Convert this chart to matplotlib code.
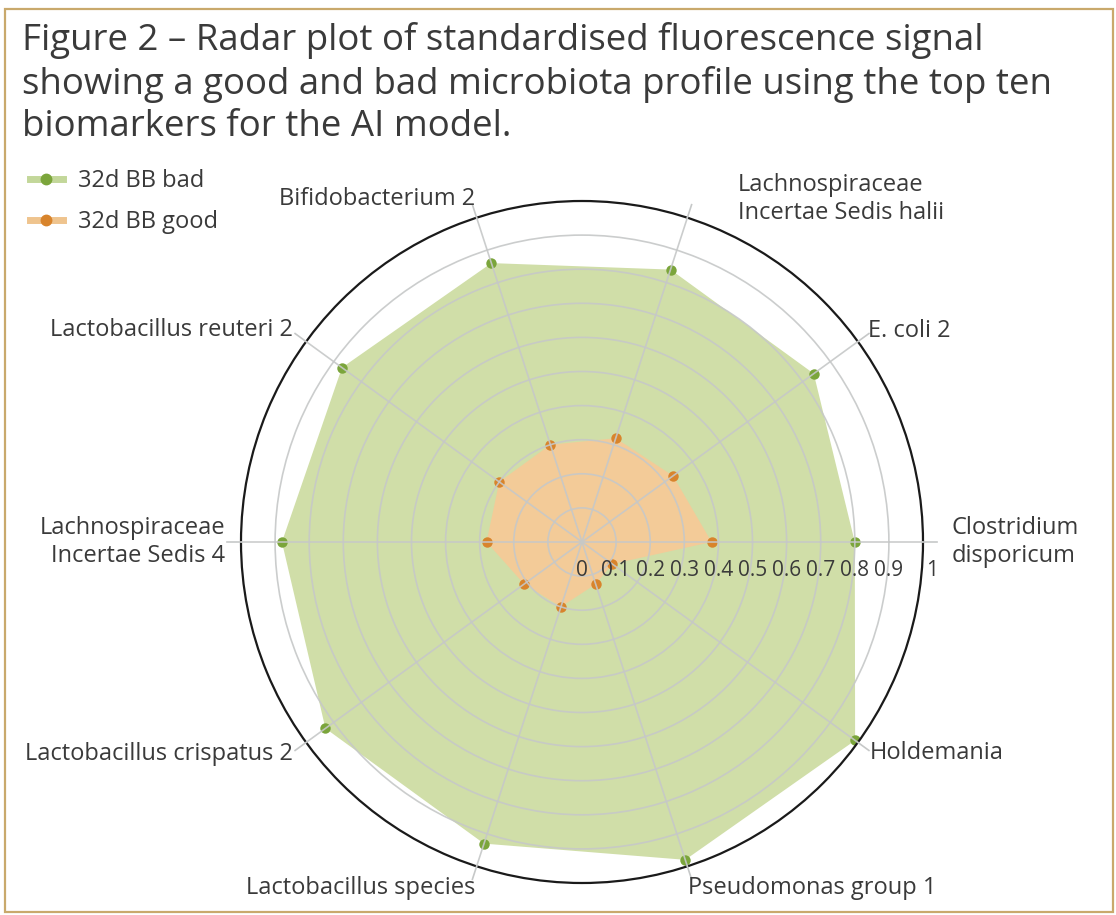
import numpy as np
import matplotlib
matplotlib.use("Agg")
import matplotlib.pyplot as plt
from matplotlib.lines import Line2D
from matplotlib.patches import Rectangle

plt.rcParams['font.family'] = ['Open Sans', 'DejaVu Sans']

# ---- data ----
categories = ["Clostridium\ndisporicum", "Holdemania", "Pseudomonas group 1",
              "Lactobacillus species", "Lactobacillus crispatus 2",
              "Lachnospiraceae\nIncertae Sedis 4", "Lactobacillus reuteri 2",
              "Bifidobacterium 2", "Lachnospiraceae\nIncertae Sedis halii", "E. coli 2"]
bad_values = [0.80, 0.99, 0.98, 0.93, 0.93, 0.88, 0.87, 0.86, 0.84, 0.84]
good_values = [0.38, 0.11, 0.13, 0.20, 0.21, 0.28, 0.30, 0.30, 0.32, 0.33]
series_names = ["32d BB bad", "32d BB good"]
radial_ticks = [0, 0.1, 0.2, 0.3, 0.4, 0.5, 0.6, 0.7, 0.8, 0.9, 1]
radial_tick_labels = ["0", "0.1", "0.2", "0.3", "0.4", "0.5", "0.6", "0.7", "0.8", "0.9", "1"]
title = ("Figure 2 – Radar plot of standardised fluorescence signal\n"
         "showing a good and bad microbiota profile using the top ten\n"
         "biomarkers for the AI model.")

# ---- styles ----
GREEN_FILL = '#d0dea8'
GREEN_DOT = '#7ba53b'
GREEN_LEG = '#c3d79a'
ORANGE_FILL = '#f3cb98'
ORANGE_DOT = '#d8842c'
ORANGE_LEG = '#efc48e'
GRID = '#c6c8c8'
TEXT = '#3a3a3a'

W, H = 1116, 915
fig = plt.figure(figsize=(W / 100, H / 100), dpi=100)
fig.patch.set_facecolor('white')

# border
fig.patches.append(Rectangle((5 / W, 3 / H), (1113 - 5) / W, (906 - 3) / H,
                             transform=fig.transFigure, fill=False,
                             edgecolor='#c9a96c', linewidth=1.6))

cx, cy, R = 582, 542, 341
ax = fig.add_axes([(cx - R) / W, (H - cy - R) / H, 2 * R / W, 2 * R / H],
                  projection='polar')
ax.set_theta_offset(0)
ax.set_theta_direction(-1)
ax.set_ylim(0, 1)

n = len(categories)
theta = np.arange(n) * 2 * np.pi / n
theta_c = np.append(theta, theta[0])
bad_c = np.append(bad_values, bad_values[0])
good_c = np.append(good_values, good_values[0])

ax.fill(theta_c, bad_c, color=GREEN_FILL, zorder=1, lw=0)
ax.fill(theta_c, good_c, color=ORANGE_FILL, zorder=1.2, lw=0)
ax.plot(theta, bad_values, 'o', color=GREEN_DOT, ms=7.5, zorder=1.5, mec='none')
ax.plot(theta, good_values, 'o', color=ORANGE_DOT, ms=7.5, zorder=1.6, mec='none')

ax.set_axisbelow(False)
ax.set_xticks(theta)
ax.set_xticklabels([])
ax.set_yticks(radial_ticks[1:-1])
ax.set_yticklabels([])
ax.grid(True, color=GRID, lw=1.2, alpha=0.9)
ax.spines['polar'].set_color('#1a1a1a')
ax.spines['polar'].set_linewidth(1.6)
ax.tick_params(axis='x', length=0, pad=0)
ax.tick_params(axis='y', length=0)

# spoke extensions outside circle
for t in theta:
    ax.plot([t, t], [1.0, 1.04], color=GRID, lw=1.2, clip_on=False, zorder=3)

# category labels
label_style = [  # ha, va, dx, dy (pixels)
    ('left', 'center', 15, 0),
    ('left', 'center', 1, -3),
    ('left', 'center', -4, -9),
    ('right', 'center', 3, -9),
    ('right', 'center', -2, -4),
    ('right', 'center', -2, 0),
    ('right', 'center', -2, 4),
    ('right', 'center', 3, 6),
    ('left', 'center', 46, 6),
    ('left', 'center', -1, 3),
]
for t, lab, (ha, va, dx, dy) in zip(theta, categories, label_style):
    ax.annotate(lab, xy=(t, 1.04), xytext=(dx, dy), textcoords='offset pixels',
                ha=ha, va=va, multialignment=ha, fontsize=17, color=TEXT,
                annotation_clip=False, linespacing=1.22)

# radial tick labels along 0° axis
for r, lab in zip(radial_ticks, radial_tick_labels):
    ax.annotate(lab, xy=(0, r), xytext=(9 if r == 1 else 0, -29),
                textcoords='offset pixels',
                ha='center', va='center', fontsize=15, color=TEXT,
                annotation_clip=False, zorder=5)

# title
fig.text(22 / W, 1 - 22 / H, title, ha='left', va='top', fontsize=26.4,
         color=TEXT, linespacing=1.24)

# legend
handles = [
    Line2D([], [], color=GREEN_LEG, lw=5, marker='o', ms=7.5,
           markerfacecolor=GREEN_DOT, markeredgecolor=GREEN_DOT),
    Line2D([], [], color=ORANGE_LEG, lw=5, marker='o', ms=7.5,
           markerfacecolor=ORANGE_DOT, markeredgecolor=ORANGE_DOT),
]
leg = fig.legend(handles, series_names, loc='upper left',
                 bbox_to_anchor=(18 / W, 1 - 157 / H), frameon=False,
                 fontsize=17, handlelength=1.4, handletextpad=0.65,
                 labelspacing=0.72, borderpad=0)
for txt in leg.get_texts():
    txt.set_color(TEXT)

fig.savefig('out.png', dpi=100)
